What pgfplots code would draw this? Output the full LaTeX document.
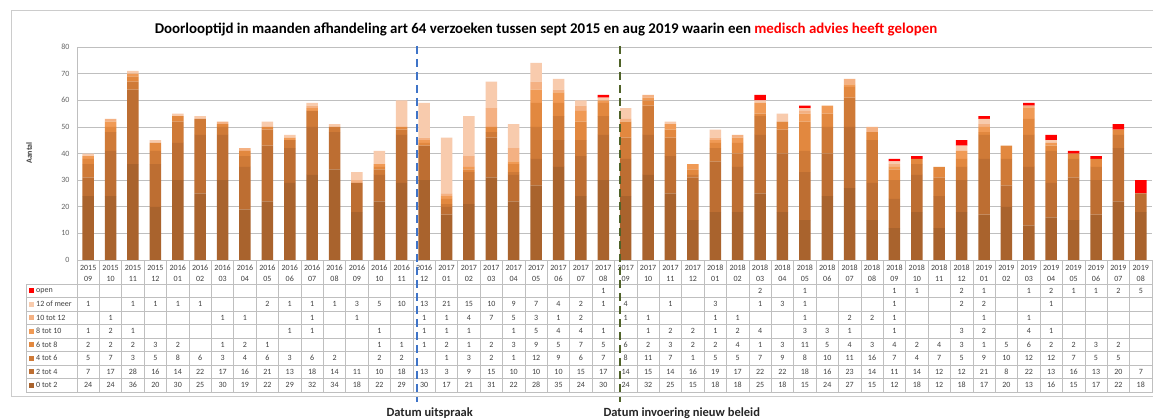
\documentclass[border=0pt]{standalone}
\usepackage{pgfplots}
\pgfplotsset{compat=1.18}
\usepackage{pgfplotstable}
\usepackage{fontspec}
\setmainfont{Carlito}

\definecolor{c0}{HTML}{A9632D}
\definecolor{c1}{HTML}{BD6E32}
\definecolor{c2}{HTML}{CF7A37}
\definecolor{c3}{HTML}{E2883F}
\definecolor{c4}{HTML}{F09A55}
\definecolor{c5}{HTML}{F4B183}
\definecolor{c6}{HTML}{F8CBAD}
\definecolor{cop}{HTML}{FF0000}
\definecolor{tline}{HTML}{BFBFBF}
\definecolor{ttext}{HTML}{404040}
\definecolor{lblue}{HTML}{3F74C8}
\definecolor{lgreen}{HTML}{4F6228}

\pgfplotstableread{
x  yr   mo s0 s1 s2 s3 s4 s5 s6 op
0  2015 09 24 7  5  2  1  0  1  0
1  2015 10 24 17 7  2  2  1  0  0
2  2015 11 36 28 3  2  1  0  1  0
3  2015 12 20 16 5  3  0  0  1  0
4  2016 01 30 14 8  2  0  0  1  0
5  2016 02 25 22 6  0  0  0  1  0
6  2016 03 30 17 3  1  0  1  0  0
7  2016 04 19 16 4  2  0  1  0  0
8  2016 05 22 21 6  1  0  0  2  0
9  2016 06 29 13 3  0  1  0  1  0
10 2016 07 32 18 6  0  1  1  1  0
11 2016 08 34 14 2  0  0  0  1  0
12 2016 09 18 11 0  0  0  1  3  0
13 2016 10 22 10 2  1  1  0  5  0
14 2016 11 29 18 2  1  0  0  10 0
15 2016 12 30 13 0  1  1  1  13 0
16 2017 01 17 3  1  2  1  1  21 0
17 2017 02 21 9  3  1  1  4  15 0
18 2017 03 31 15 2  2  0  7  10 0
19 2017 04 22 10 1  3  1  5  9  0
20 2017 05 28 10 12 9  5  3  7  0
21 2017 06 35 10 9  5  4  1  4  0
22 2017 07 24 15 6  7  4  2  2  0
23 2017 08 30 17 7  5  1  0  1  1
24 2017 09 24 14 8  6  0  1  4  0
25 2017 10 32 15 11 2  1  1  0  0
26 2017 11 25 14 7  3  2  0  1  0
27 2017 12 15 16 1  2  2  0  0  0
28 2018 01 18 19 5  2  1  1  3  0
29 2018 02 18 17 5  4  2  1  0  0
30 2018 03 25 22 7  1  4  0  1  2
31 2018 04 18 22 9  3  0  0  3  0
32 2018 05 15 18 8  11 3  1  1  1
33 2018 06 24 16 10 5  3  0  0  0
34 2018 07 27 23 11 4  1  2  0  0
35 2018 08 15 14 16 3  0  2  0  0
36 2018 09 12 11 7  4  1  1  1  1
37 2018 10 18 14 4  2  0  0  0  1
38 2018 11 12 12 7  4  0  0  0  0
39 2018 12 18 12 5  3  3  0  2  2
40 2019 01 17 21 9  1  2  1  2  1
41 2019 02 20 8  10 5  0  0  0  0
42 2019 03 13 22 12 6  4  1  0  1
43 2019 04 16 13 12 2  1  0  1  2
44 2019 05 15 16 7  2  0  0  0  1
45 2019 06 17 13 5  3  0  0  0  1
46 2019 07 22 20 5  2  0  0  0  2
47 2019 08 18 7  0  0  0  0  0  5
}\data

\pgfplotsset{
  /pgf/number format/assume math mode=true,
  tabrow/.style={draw=none, mark=none, forget plot,
    nodes near coords, nodes near coords align={center},
    every node near coord/.append style={font=\fontsize{8}{9}\selectfont, text=ttext, inner sep=0pt}},
}

\begin{document}
\begin{tikzpicture}[x=1pt,y=1pt]
\useasboundingbox (0,0) rectangle (1153,420);
\fill[white] (0,0) rectangle (1153,420);
\draw[gray!40, line width=1pt] (11,23) rectangle (1170,409);

\node[font=\bfseries\fontsize{14.9}{17}\selectfont, anchor=center] at (546,391)
  {Doorlooptijd in maanden afhandeling art 64 verzoeken tussen sept 2015 en aug 2019 waarin een \textcolor{red}{medisch advies heeft gelopen}};

\node[rotate=90, font=\bfseries\fontsize{8}{9}\selectfont, text=ttext] at (29,267) {Aantal};

% main chart
\begin{axis}[at={(77pt,160pt)}, anchor=south west, scale only axis,
  width=1075pt, height=213pt,
  ybar stacked, bar width=11.5pt,
  xmin=-0.5, xmax=47.5, ymin=0, ymax=80, ytick={0,10,...,80},
  xtick=\empty,
  ymajorgrids, grid style={tline, line width=0.7pt},
  separate axis lines, axis x line=none, axis y line*=left,
  y axis line style={-, tline, line width=0.8pt},
  major tick length=0pt,
  yticklabel style={font=\fontsize{8}{9}\selectfont, text=black!60, xshift=-4pt},
  /pgf/number format/assume math mode=true,
  clip=false]
\addplot[fill=c0, draw=none] table[x=x, y=s0] {\data};
\addplot[fill=c1, draw=none] table[x=x, y=s1] {\data};
\addplot[fill=c2, draw=none] table[x=x, y=s2] {\data};
\addplot[fill=c3, draw=none] table[x=x, y=s3] {\data};
\addplot[fill=c4, draw=none] table[x=x, y=s4] {\data};
\addplot[fill=c5, draw=none] table[x=x, y=s5] {\data};
\addplot[fill=c6, draw=none] table[x=x, y=s6] {\data};
\addplot[fill=cop, draw=none] table[x=x, y=op] {\data};
\end{axis}

% data table
\begin{axis}[at={(77pt,28pt)}, anchor=south west, scale only axis,
  width=1075pt, height=132pt,
  xmin=-0.5, xmax=47.5, ymin=0, ymax=9.78,
  xtick={-0.5,0.5,...,47.5}, ytick={0,1,2,3,4,5,6,7,8,9.78},
  xticklabels={}, yticklabels={},
  xmajorgrids, ymajorgrids, grid style={tline, line width=0.6pt},
  axis line style={tline, line width=0.6pt},
  major tick length=0pt,
  restrict y to domain=0:20,
  /pgf/number format/assume math mode=true,
  clip=false]
% header
\addplot[tabrow, point meta=explicit symbolic] table[x=x, y expr=9.2, meta=yr] {\data};
\addplot[tabrow, point meta=explicit symbolic] table[x=x, y expr=8.4, meta=mo] {\data};
% values
\addplot[tabrow, point meta=explicit] table[x=x, y expr={\thisrow{op}==0 ? -100 : 7.5}, meta=op] {\data};
\addplot[tabrow, point meta=explicit] table[x=x, y expr={\thisrow{s6}==0 ? -100 : 6.5}, meta=s6] {\data};
\addplot[tabrow, point meta=explicit] table[x=x, y expr={\thisrow{s5}==0 ? -100 : 5.5}, meta=s5] {\data};
\addplot[tabrow, point meta=explicit] table[x=x, y expr={\thisrow{s4}==0 ? -100 : 4.5}, meta=s4] {\data};
\addplot[tabrow, point meta=explicit] table[x=x, y expr={\thisrow{s3}==0 ? -100 : 3.5}, meta=s3] {\data};
\addplot[tabrow, point meta=explicit] table[x=x, y expr={\thisrow{s2}==0 ? -100 : 2.5}, meta=s2] {\data};
\addplot[tabrow, point meta=explicit] table[x=x, y expr={\thisrow{s1}==0 ? -100 : 1.5}, meta=s1] {\data};
\addplot[tabrow, point meta=explicit] table[x=x, y expr={\thisrow{s0}==0 ? -100 : 0.5}, meta=s0] {\data};
\end{axis}

% label column of the table
\draw[tline, line width=0.6pt] (26,28) rectangle (77,136);
\foreach \r in {1,...,7} {\draw[tline, line width=0.6pt] (26,28+13.5*\r) -- (77,28+13.5*\r);}
\foreach \r/\c/\t in {7/cop/open, 6/c6/12 of meer, 5/c5/10 tot 12, 4/c4/8 tot 10, 3/c3/6 tot 8, 2/c2/4 tot 6, 1/c1/2 tot 4, 0/c0/0 tot 2} {
  \fill[\c] (29,28+13.5*\r+4.45) rectangle ++(4.6,4.6);
  \node[anchor=west, font=\fontsize{8}{9}\selectfont, text=ttext, inner sep=0pt] at (36,28+13.5*\r+6.75) {\t};
}

% event lines
\draw[lblue, line width=2.4pt, dash pattern=on 8pt off 5pt] (417,374) -- (417,18);
\draw[lgreen, line width=2.4pt, dash pattern=on 8pt off 5pt] (620,374) -- (620,18);

\node[anchor=base west, font=\bfseries\fontsize{12.5}{14}\selectfont, text=black!85] at (383,3) {Datum uitspraak};
\node[anchor=base west, font=\bfseries\fontsize{12.5}{14}\selectfont, text=black!85] at (600,3) {Datum invoering nieuw beleid};
\end{tikzpicture}
\end{document}
